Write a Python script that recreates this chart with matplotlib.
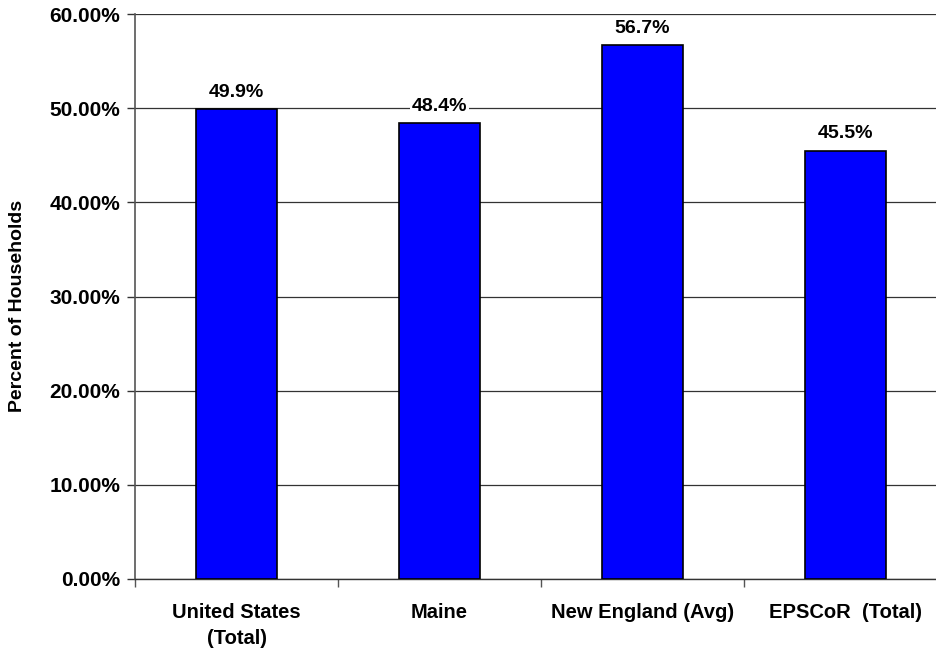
import matplotlib
matplotlib.use("Agg")
import matplotlib.pyplot as plt
from matplotlib.ticker import FixedLocator

categories = ["United States\n(Total)", "Maine", "New England (Avg)", "EPSCoR  (Total)"]
values = [49.9, 48.4, 56.7, 45.5]
yticks = [0, 10, 20, 30, 40, 50, 60]

plt.rcParams['font.family'] = ['Liberation Sans', 'DejaVu Sans']

fig = plt.figure(figsize=(9.37, 6.5), dpi=100)
ax = fig.add_axes([135/937, 71/650, 812/937, 565/650])

x = list(range(len(categories)))
ax.bar(x, values, width=0.4, color="#0000FF", edgecolor="black", linewidth=1.2, zorder=3)

for xi, v in zip(x, values):
    ax.annotate(f"{v:.1f}%", (xi, v), xytext=(0, 6), textcoords="offset points",
                ha="center", va="bottom", fontsize=14, fontweight="bold", zorder=4,
                bbox=dict(facecolor="white", edgecolor="none", pad=1.5))

ax.set_xlim(-0.5, len(categories) - 0.5)
ax.set_ylim(0, 60)
ax.set_yticks(yticks)
ax.set_yticklabels([f"{t:.2f}%" for t in yticks], fontsize=15, fontweight="bold")
ax.set_xticks(x)
ax.set_xticklabels(categories, fontsize=14.5, fontweight="bold", linespacing=1.5)
ax.tick_params(axis="x", which="major", length=0, pad=17)
ax.xaxis.set_minor_locator(FixedLocator([-0.5, 0.5, 1.5, 2.5, 3.5]))
ax.tick_params(axis="x", which="minor", length=5.5, width=1, color="#555555")
ax.tick_params(axis="y", length=5.5, width=1, color="#333333", pad=5)

ax.grid(axis="y", color="#333333", linewidth=0.9, zorder=0)
for s in ["top", "right"]:
    ax.spines[s].set_visible(False)
ax.spines["left"].set_color("#555555")
ax.spines["left"].set_linewidth(1.2)
ax.spines["bottom"].set_color("#333333")
ax.spines["bottom"].set_linewidth(1.0)

fig.text(18/937, 1 - 306/650, "Percent of Households", rotation=90, ha="center", va="center",
         fontsize=14, fontweight="bold")

fig.savefig("out.png", dpi=100)
